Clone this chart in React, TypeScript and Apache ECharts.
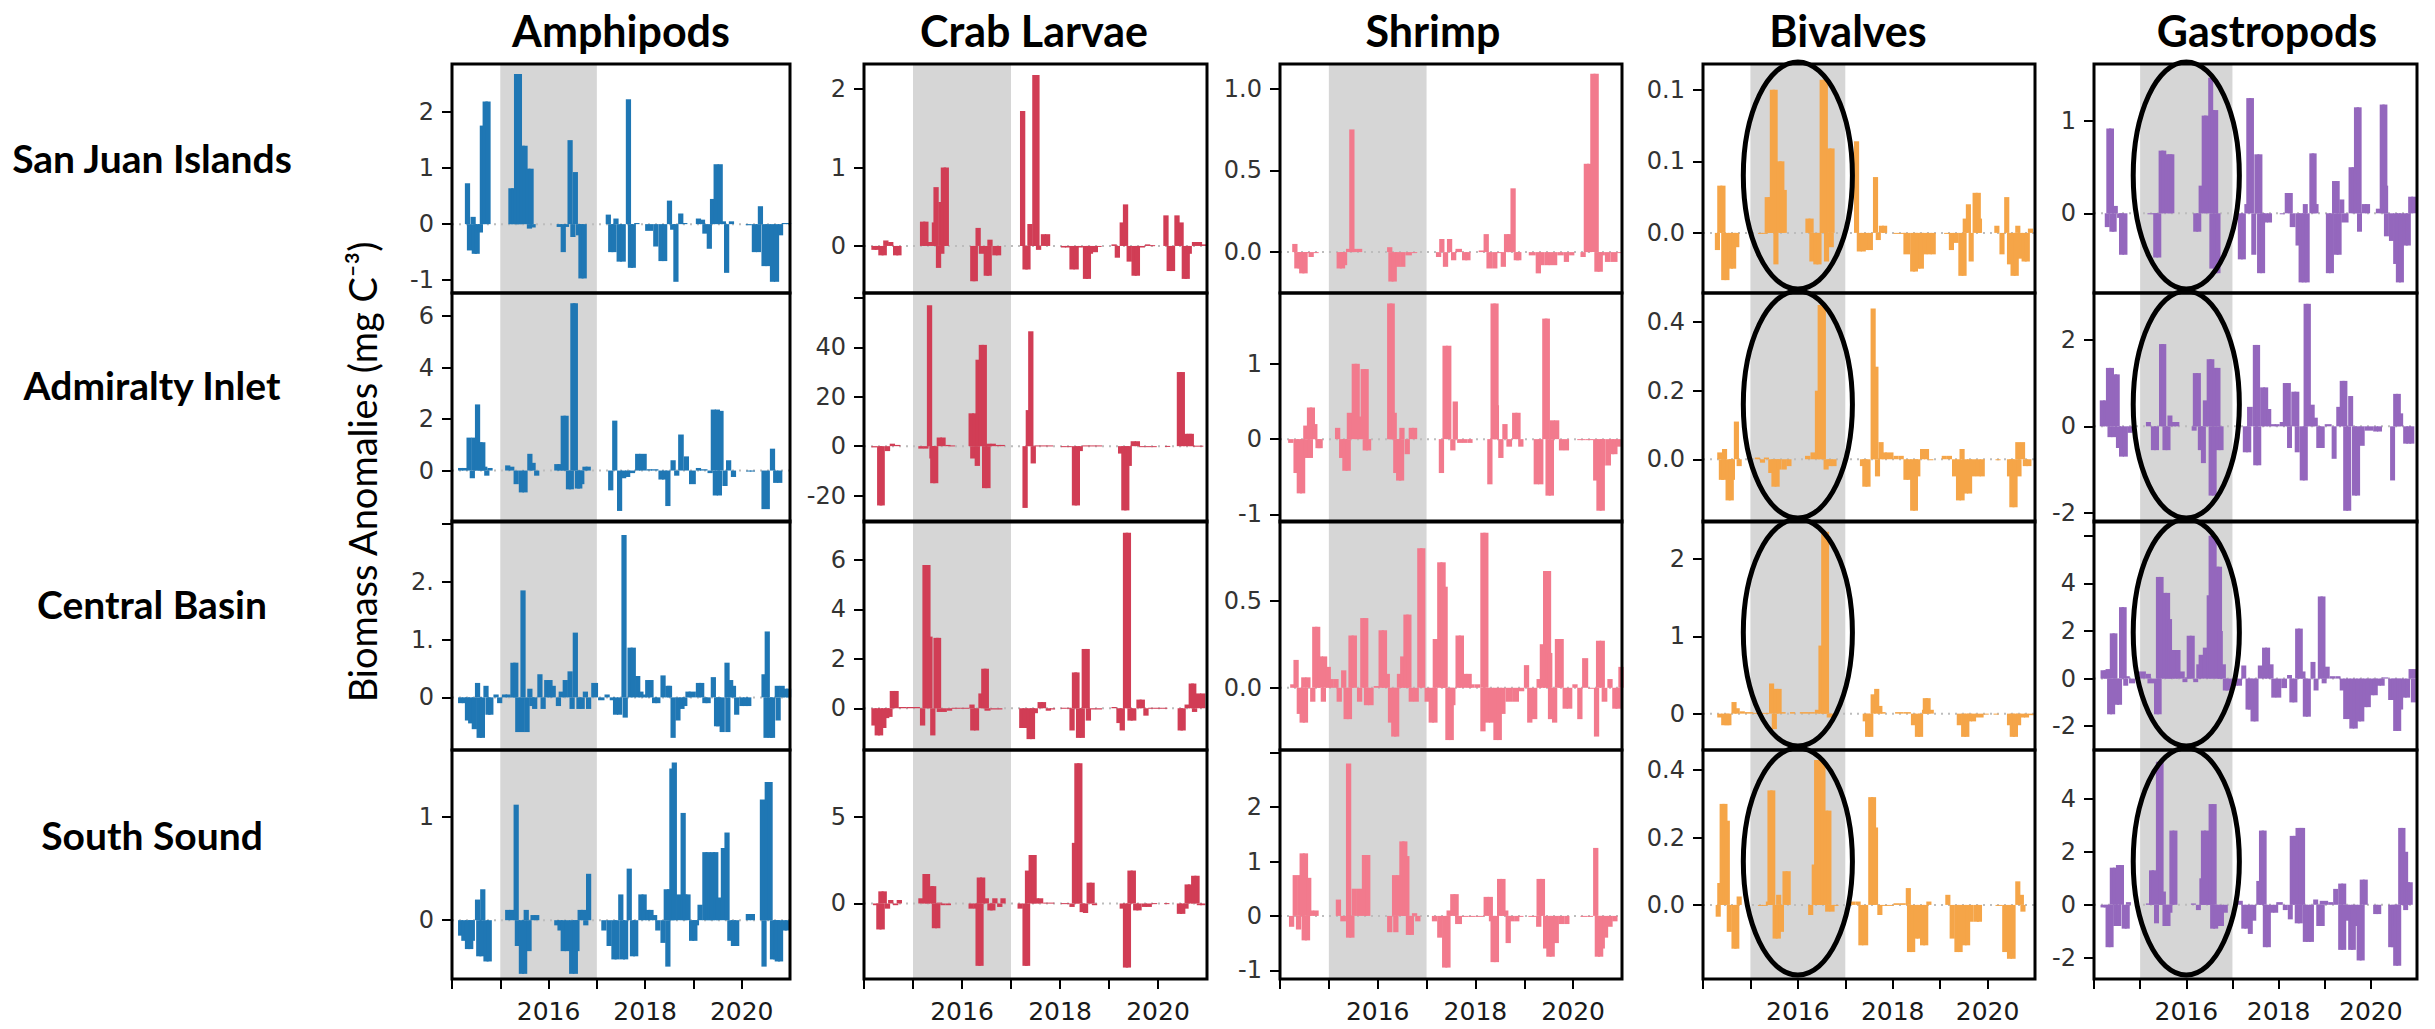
import { useEffect, useRef } from 'react';
import * as echarts from 'echarts';

// ---------- categories / labels ----------
const taxa = ['Amphipods', 'Crab Larvae', 'Shrimp', 'Bivalves', 'Gastropods'];
const regions = ['San Juan Islands', 'Admiralty Inlet', 'Central Basin', 'South Sound'];
const yAxisTitle = 'Biomass Anomalies (mg C\u207B\u00B3)';
const xTickYears = [2014, 2015, 2016, 2017, 2018, 2019, 2020];
const xLabelYears = [2016, 2018, 2020];
const xStartYear = 2014;
const xEndYear = 2021;
const warmPeriod = [2015, 2017];
const circledTaxa = ['Bivalves', 'Gastropods'];
const circleCenterYear = 2016;
const circleHalfWidthYears = 1.15;

// ---------- y axis limits, ticks and tick labels (per taxon, per region) ----------
const amphipodsYLimits = [[-1.23, 2.86], [-2.0, 6.9], [-0.91, 3.05], [-0.57, 1.65]];
const amphipodsYTicks = [[-1, 0, 1, 2], [0, 2, 4, 6], [0, 1, 2, 3], [0, 1]];
const amphipodsYTickLabels = [['-1', '0', '1', '2'], ['0', '2', '4', '6'], ['0', '1.', '2.', ''], ['0', '1']];

const crabYLimits = [[-0.6, 2.32], [-30.7, 62], [-1.69, 7.58], [-4.36, 8.86]];
const crabYTicks = [[0, 1, 2], [-20, 0, 20, 40, 60], [0, 2, 4, 6], [0, 5]];
const crabYTickLabels = [['0', '1', '2'], ['-20', '0', '20', '40', ''], ['0', '2', '4', '6'], ['0', '5']];

const shrimpYLimits = [[-0.25, 1.15], [-1.1, 1.94], [-0.357, 0.957], [-1.16, 3.05]];
const shrimpYTicks = [[0, 0.5, 1], [-1, 0, 1], [0, 0.5], [-1, 0, 1, 2, 3]];
const shrimpYTickLabels = [['0.0', '0.5', '1.0'], ['-1', '0', '1'], ['0.0', '0.5'], ['-1', '0', '1', '2', '']];

const bivalvesYLimits = [[-0.042, 0.118], [-0.183, 0.485], [-0.47, 2.49], [-0.22, 0.46]];
const bivalvesYTicks = [[0, 0.05, 0.1], [0, 0.2, 0.4], [0, 1, 2], [0, 0.2, 0.4]];
const bivalvesYTickLabels = [['0.0', '0.1', '0.1'], ['0.0', '0.2', '0.4'], ['0', '1', '2'], ['0.0', '0.2', '0.4']];

const gastropodsYLimits = [[-0.865, 1.62], [-2.21, 3.08], [-3.0, 6.62], [-2.8, 5.84]];
const gastropodsYTicks = [[0, 1], [-2, 0, 2], [-2, 0, 2, 4, 6], [-2, 0, 2, 4]];
const gastropodsYTickLabels = [['0', '1'], ['-2', '0', '2'], ['-2', '0', '2', '4', ''], ['-2', '0', '2', '4']];

// ---------- series values: [months since Jan 2014, anomaly] ----------
const amphipodsSanJuan = [
  [3.2, 0.73], [3.7, -0.47], [4.6, 0.13], [4.9, -0.53], [5.6, -0.53], [6.4, -0.15], [6.9, 1.76], [7.6, 2.19], [8.3, 2.19],
  [14.0, 0.64], [14.7, 0.64], [15.4, 2.68], [16.1, 2.68], [16.8, 1.4], [17.5, 1.4], [18.2, 0.99], [19.0, 0.99], [18.6, -0.08], [19.5, -0.06],
  [26.0, -0.05], [27.0, -0.5], [27.8, -0.05], [28.7, 1.5], [29.4, -0.23], [30.0, 0.93], [30.8, -0.2], [31.4, -0.97], [32.2, -0.97],
  [38.2, 0.17], [38.8, -0.5], [39.6, -0.5], [40.1, 0.1], [40.9, -0.67], [41.8, -0.67], [43.2, 2.23], [43.7, -0.78], [44.4, -0.78], [45.3, 0.02],
  [48.0, -0.12], [50.0, -0.4], [51.3, -0.66], [52.2, -0.66], [53.4, 0.42], [54.2, -0.1], [55.0, -1.03], [56.2, 0.19], [57.2, 0.02],
  [60.6, 0.1], [61.6, 0.08], [62.2, -0.17], [63.3, -0.44], [64.1, 0.45], [65.0, 1.07], [66.0, 1.07], [66.8, 0.05], [67.6, -0.87], [68.8, 0.05],
  [73.0, -0.02], [74.5, -0.5], [75.5, -0.5], [76.0, 0.32], [76.9, -0.75], [77.9, -0.75], [79.0, -1.03], [80.0, -1.03], [81.0, -0.2], [82.0, 0.02], [83.0, 0.02],
];
const amphipodsAdmiralty = [
  [1.5, 0.1], [2.5, 0.1], [3.6, 1.28], [4.4, -0.3], [4.8, 1.28], [5.7, 2.57], [6.3, 1.1], [7.0, 1.1], [7.5, 0.15], [8.0, -0.2], [8.8, 0.1],
  [13.2, 0.2], [14.2, 0.15], [15.3, -0.53], [16.6, -0.85], [17.5, -0.85], [18.7, 0.65], [19.5, 0.3], [20.4, -0.2],
  [25.4, 0.25], [26.2, 0.25], [27.0, 2.13], [27.7, 2.13], [28.3, -0.73], [29.0, -0.73], [29.4, 6.5], [30.0, 6.5], [30.5, -0.7], [31.1, -0.7], [31.6, -0.53], [32.4, 0.15], [33.2, 0.15],
  [38.8, -0.77], [39.8, 1.94], [41.0, -1.57], [42.0, -0.3], [43.0, -0.25], [44.0, -0.1], [45.5, 0.65], [46.5, 0.65],
  [48.4, 0.05], [49.5, 0.05], [51.3, -0.35], [52.2, -0.35], [53.0, -1.38], [54.3, 0.4], [55.2, -0.2], [56.2, 1.4], [57.6, 0.55], [58.9, -0.53],
  [60.6, 0.1], [61.6, 0.05], [63.5, -0.1], [64.3, 2.37], [65.3, 2.37], [66.2, 2.32], [64.8, -0.97], [65.8, -0.97], [67.2, -0.6], [68.1, 0.4], [69.3, -0.25],
  [73.1, -0.02], [74.0, -0.02], [76.9, -1.5], [79.0, 0.85], [79.8, -0.48], [80.8, -0.48],
];
const amphipodsCentral = [
  [1.5, -0.1], [2.4, -0.1], [3.2, -0.4], [4.0, -0.45], [4.9, -0.55], [5.7, 0.25], [6.1, -0.7], [6.9, -0.7], [7.8, 0.2], [8.3, -0.3], [9.0, -0.3],
  [10.3, 0.05], [11.2, -0.1], [12.4, 0.05], [13.3, 0.05],
  [14.5, 0.6], [15.2, 0.6], [15.7, -0.6], [17.0, 1.85], [16.8, -0.6], [18.0, -0.6], [18.7, 0.15], [19.2, -0.15], [19.9, -0.2], [21.2, 0.4], [22.0, -0.2],
  [22.9, 0.3], [23.7, 0.3], [24.5, 0.2], [25.8, -0.15], [26.5, 0.1], [27.5, 0.3], [28.7, 0.45], [29.2, -0.2], [30.0, 1.12], [30.9, -0.2], [31.7, -0.2], [32.5, 0.1], [33.3, -0.2], [34.6, 0.25],
  [36.3, -0.05], [37.9, 0.05], [39.2, -0.05], [40.0, -0.3], [41.0, -0.3], [42.1, 2.81], [42.4, -0.35], [43.6, 0.86], [44.4, 0.86], [45.5, 0.37], [46.3, 0.1], [47.2, 0.05],
  [48.0, 0.3], [48.8, 0.3], [49.7, -0.1], [50.5, -0.1], [51.8, 0.38], [53.0, 0.2], [53.4, 0.2], [54.3, -0.7], [55.5, -0.4], [56.5, -0.2], [57.2, -0.15], [58.0, 0.1], [58.8, 0.1],
  [60.6, 0.25], [61.4, 0.25], [62.2, -0.1], [63.0, -0.1], [64.3, 0.35], [65.1, -0.5], [65.6, -0.5], [66.5, -0.6], [67.7, 0.6], [67.9, -0.6], [68.6, 0.3], [69.3, 0.2], [70.1, -0.3], [71.4, -0.15], [72.3, -0.15], [73.1, -0.15],
  [76.9, 0.4], [77.7, 1.14], [77.4, -0.7], [78.4, -0.7], [79.0, -0.7], [80.2, 0.2], [80.4, -0.4], [81.4, 0.2], [82.3, 0.15], [83.0, 0.15],
];
const amphipodsSouth = [
  [1.5, -0.15], [2.3, -0.2], [3.2, -0.28], [4.0, -0.28], [4.4, -0.2], [5.7, 0.2], [6.0, -0.35], [6.8, -0.35], [7.0, 0.3], [7.8, -0.4], [8.6, -0.4],
  [13.2, 0.1], [14.2, 0.1], [15.3, 1.12], [15.6, -0.25], [16.6, -0.52], [17.4, -0.52], [17.8, 0.1], [18.5, -0.3], [19.5, 0.05], [20.4, 0.05],
  [25.4, -0.05], [26.2, -0.1], [27.0, -0.3], [28.0, -0.3], [29.1, -0.52], [30.0, -0.52], [30.4, -0.3], [31.2, 0.1], [32.0, 0.1], [33.3, 0.45], [32.6, -0.05],
  [37.1, -0.1], [38.4, -0.25], [39.6, -0.38], [40.4, -0.38], [41.3, 0.25], [41.7, -0.38], [42.5, -0.38], [43.4, 0.5], [44.2, -0.35], [45.0, -0.35], [46.3, 0.25], [47.1, 0.25],
  [48.0, 0.1], [48.8, 0.1], [49.7, 0.05], [50.5, -0.1], [51.8, -0.22], [52.6, 0.3], [53.0, -0.45], [53.4, 0.3], [54.0, 1.47], [54.6, 1.53], [55.7, 0.25], [56.8, 1.04], [57.2, 0.25], [58.0, 0.25], [58.9, -0.2], [59.7, -0.2], [60.1, -0.05],
  [61.0, 0.15], [62.2, 0.66], [63.0, 0.66], [63.5, 0.3], [64.1, 0.66], [64.9, 0.66], [65.6, 0.22], [66.8, 0.7], [67.7, 0.85], [68.4, -0.2], [69.3, -0.25], [70.1, -0.25],
  [73.0, 0.06], [74.0, 0.06],
  [76.5, 1.17], [76.9, -0.45], [77.7, 1.34], [78.4, 1.34], [79.0, -0.38], [79.8, -0.38], [80.2, -0.4], [81.0, -0.4], [81.9, -0.1], [82.7, -0.1],
];

const crabSanJuan = [
  [1.8, -0.05], [2.6, -0.05], [3.5, -0.12], [4.3, -0.12], [4.7, 0.07], [5.9, 0.05], [7.1, -0.12], [7.9, -0.12],
  [13.7, 0.31], [14.5, 0.31], [15.4, 0.05], [16.6, 0.3], [17.0, 0.75], [17.6, -0.28], [18.2, 0.56], [18.8, 1.0], [19.5, 1.0], [18.4, -0.1],
  [26.0, -0.45], [26.6, -0.45], [27.3, 0.23], [28.1, -0.1], [29.3, -0.38], [30.0, -0.38], [30.2, 0.08], [31.4, -0.12], [32.3, -0.12],
  [38.2, 1.72], [38.8, -0.3], [39.5, -0.3], [40.0, 0.28], [41.2, 2.18], [41.7, 2.18], [42.1, -0.05], [43.3, 0.15], [44.3, 0.15],
  [48.2, -0.02], [49.2, -0.02], [50.3, -0.3], [51.3, -0.3], [52.3, -0.02], [53.6, -0.42], [54.3, -0.42], [54.8, -0.1], [56.0, -0.08], [56.9, 0.0],
  [60.6, 0.02], [61.4, -0.15], [62.6, 0.3], [63.4, 0.53], [64.3, -0.2], [65.5, -0.38], [66.3, -0.38], [67.0, -0.02], [68.8, 0.02], [70.0, 0.01],
  [73.3, 0.39], [74.1, -0.32], [74.9, -0.32], [76.0, 0.39], [77.0, 0.3], [77.8, -0.42], [78.5, -0.42], [79.0, -0.1], [80.3, 0.05], [81.5, 0.05], [82.7, 0.02],
];
const crabAdmiralty = [
  [1.8, -0.5], [3.2, -24], [3.8, -24], [5.1, -2], [6.3, 1], [7.6, 0.5],
  [13.3, -1], [14.5, -1], [15.4, 57], [16.0, -5], [16.2, -15], [16.9, -15], [17.8, 3.5], [18.7, 3.5], [19.9, 0.5], [21.0, 0.3],
  [25.6, 13.3], [26.0, -5], [26.5, 13.3], [27.3, 35], [27.1, -8], [28.1, 41], [28.8, 41], [28.9, -17], [29.7, -17], [29.9, 1], [31.0, 1], [32.2, 0.5], [33.2, 0.5],
  [38.8, -25], [39.6, 14.6], [40.2, 46.5], [40.8, -7], [41.7, 0.3], [43.3, 0.3], [45.0, 0.3],
  [48.2, -0.2], [49.5, -0.2], [50.9, -24], [51.6, -24], [52.3, -2], [53.5, 0.3], [55.6, 0.3], [57.0, 0.3],
  [62.2, -3], [63.0, -26], [63.7, -26], [64.3, -8], [65.3, 2], [66.3, 2], [67.3, -0.3], [69.0, -0.3], [70.4, -0.3],
  [73.7, 0.1], [76.6, 30], [77.3, 30], [78.1, 5], [79.0, 5], [79.5, 5], [80.5, 0.2], [81.8, 0.2],
];
const crabCentral = [
  [1.8, -0.7], [2.6, -1.1], [3.4, -1.1], [4.2, -0.8], [4.9, -0.4], [5.7, -0.35], [6.3, 0.7], [7.2, 0.7], [8.4, 0.05], [10.4, 0.05], [12.0, 0.05],
  [13.7, -0.7], [14.3, 5.8], [15.0, 5.8], [15.5, 2.9], [16.2, -1.1], [17.0, 2.85], [17.6, 2.85], [17.8, -0.15], [19.0, -0.15], [20.3, -0.1], [21.5, 0.02], [23.6, 0.02],
  [25.8, 0.15], [26.0, -0.9], [26.9, -0.9], [28.0, 0.6], [28.7, 1.6], [29.3, 1.6], [29.5, -0.1], [31.0, -0.05], [32.6, -0.05],
  [38.0, -0.8], [38.8, -0.8], [39.8, -1.25], [40.6, -1.25], [41.3, -0.2], [42.5, 0.25], [43.3, 0.25], [44.5, -0.1], [45.5, -0.05],
  [48.2, 0.02], [49.5, 0.02], [50.3, -0.9], [50.9, 1.45], [51.5, 1.45], [51.9, -1.2], [52.8, -1.2], [53.3, 2.4], [54.0, 2.4], [54.3, -0.5], [55.6, -0.05], [57.0, -0.05],
  [60.6, 0.05], [61.8, -0.6], [62.6, -0.9], [63.4, 7.1], [64.1, 7.1], [64.5, -0.5], [65.3, -0.5], [66.7, 0.35], [67.5, 0.35], [68.4, -0.3], [69.6, 0.02], [71.0, 0.02], [73.0, 0.02],
  [76.8, -0.9], [77.5, -0.9], [78.5, 0.15], [79.5, 1.0], [80.1, 1.0], [80.3, -0.15], [81.3, 0.6], [82.3, 0.6],
];
const crabSouth = [
  [2.2, -0.1], [3.0, -1.5], [3.8, -1.5], [3.5, 0.7], [4.3, 0.7], [5.1, -0.3], [5.9, 0.2], [7.1, -0.1], [8.0, 0.2],
  [13.3, 0.3], [14.3, 1.7], [14.9, 1.7], [15.8, 1.0], [16.4, 1.0], [16.6, -1.43], [17.4, -1.43], [17.8, 0.05], [18.7, -0.1], [20.0, -0.1],
  [25.6, -0.3], [26.8, -0.3], [27.3, -3.6], [28.0, -3.6], [27.6, 1.5], [28.4, 1.5], [29.3, 0.3], [30.2, -0.4], [30.9, -0.4], [31.4, 0.3], [32.6, -0.2], [33.4, 0.3],
  [37.6, -0.3], [38.8, -3.6], [39.4, -3.6], [39.4, 1.9], [40.3, 2.8], [41.0, 2.8], [41.6, 0.3], [42.5, 0.3], [43.9, 0.05], [45.3, 0.05],
  [48.2, 0.02], [50.3, -0.2], [50.9, 3.5], [51.5, 8.1], [52.2, 8.1], [52.8, -0.5], [53.6, -0.55], [54.5, 1.2], [55.2, 1.2], [55.8, -0.1],
  [62.6, -0.3], [63.4, -3.7], [64.1, -3.7], [64.5, 1.9], [65.3, 1.9], [65.9, -0.4], [66.7, -0.4], [68.0, -0.2], [69.0, -0.2], [70.5, 0.02],
  [73.5, 0.02], [76.6, -0.6], [77.4, -0.6], [78.2, -0.3], [78.5, 1.1], [79.3, 1.1], [80.1, 1.6], [80.9, 1.6], [81.5, -0.1], [82.3, -0.1],
];

const shrimpSanJuan = [
  [3.0, 0.05], [3.5, -0.1], [4.3, -0.1], [4.7, -0.13], [5.5, -0.13], [5.9, 0.0], [7.0, -0.03], [8.2, 0.0],
  [13.9, -0.1], [14.7, -0.1], [15.2, -0.08], [16.2, 0.02], [17.0, 0.75], [17.6, 0.02], [18.9, 0.02],
  [26.3, 0.03], [26.6, -0.18], [27.4, -0.18], [28.3, -0.09], [29.5, -0.09], [30.8, -0.02], [32.4, 0.0],
  [38.3, -0.03], [39.1, 0.08], [40.0, -0.09], [41.0, 0.08], [42.0, -0.05], [43.1, 0.02], [44.7, -0.05], [45.5, -0.05],
  [48.8, 0.01], [50.0, 0.11], [50.7, -0.1], [52.1, -0.1], [53.3, 0.0], [54.2, -0.09], [55.0, 0.11], [55.8, 0.11], [56.6, 0.39], [57.4, -0.05], [58.0, -0.05],
  [61.1, -0.02], [62.8, -0.13], [63.6, -0.08], [64.9, -0.08], [66.0, -0.08], [68.1, -0.02], [69.7, -0.06], [71.0, -0.02],
  [73.8, -0.03], [74.6, 0.54], [75.4, 0.54], [76.2, 1.09], [77.0, 1.09], [77.2, -0.12], [78.0, -0.12], [78.5, -0.02], [79.8, -0.06], [81.2, -0.06], [82.9, 0.0],
];
const shrimpAdmiralty = [
  [2.0, -0.05], [3.3, -0.45], [4.1, -0.72], [4.9, -0.72], [5.7, -0.25], [5.7, 0.18], [6.6, 0.42], [7.3, 0.42], [6.8, -0.25], [7.9, 0.2], [8.7, -0.12], [9.2, -0.12],
  [13.5, 0.15], [14.5, -0.25], [15.3, -0.42], [16.1, -0.42], [16.4, 0.35], [17.6, 1.0], [18.3, 1.0], [18.9, 0.3], [19.8, 0.93], [20.5, 0.93], [20.3, -0.15], [21.1, -0.15],
  [26.3, 1.8], [26.9, 1.8], [27.4, 0.35], [27.8, -0.45], [28.5, -0.55], [29.2, -0.55], [29.3, 0.15], [30.6, -0.2], [31.6, 0.15], [32.4, 0.15],
  [39.0, -0.45], [39.9, 1.24], [40.8, 1.24], [41.8, -0.15], [42.4, 0.5], [43.5, -0.05], [44.7, -0.05], [46.0, -0.05],
  [50.9, -0.6], [51.7, 1.8], [52.4, 1.8], [52.5, 0.45], [53.6, -0.25], [54.6, 0.2], [55.6, -0.1], [57.0, 0.35], [57.8, 0.35], [58.5, -0.1],
  [62.3, -0.6], [63.4, -0.6], [64.4, 1.6], [65.0, 1.6], [65.2, -0.75], [66.0, -0.75], [66.2, 0.25], [67.3, 0.25], [68.5, -0.15], [69.7, -0.15],
  [73.0, 0.0], [75.0, 0.0], [76.9, -0.55], [77.7, -0.95], [78.5, -0.95], [78.7, -0.35], [80.0, -0.35], [80.8, -0.2], [81.6, -0.2], [82.4, -0.1],
];
const shrimpCentral = [
  [2.5, 0.02], [3.3, 0.16], [4.1, -0.15], [4.8, -0.2], [5.6, -0.2], [5.2, 0.06], [6.2, 0.06], [7.4, -0.08], [7.9, 0.35], [8.6, 0.35], [9.3, 0.18], [10.0, -0.08], [10.3, 0.18], [11.2, 0.12], [11.9, 0.05], [13.1, 0.05],
  [13.9, -0.08], [15.0, 0.1], [15.6, -0.18], [16.4, -0.18], [16.8, 0.3], [17.6, 0.3], [18.9, -0.08], [19.7, 0.4], [20.4, 0.4], [20.6, -0.1], [21.6, -0.1], [23.0, 0.01], [24.2, 0.33], [25.0, 0.33],
  [25.7, 0.08], [26.5, -0.2], [27.3, -0.28], [28.0, -0.28], [28.7, 0.08], [29.5, 0.18], [30.3, 0.42], [31.0, 0.42], [31.6, -0.08], [32.8, -0.08], [33.7, 0.8], [34.4, 0.8],
  [35.5, -0.08], [36.5, -0.2], [37.4, -0.2], [37.5, 0.28], [38.6, 0.72], [39.4, 0.72], [39.9, 0.58], [40.6, -0.3], [41.4, -0.3], [41.8, -0.1], [43.1, 0.3], [43.9, 0.3], [44.7, 0.08], [45.8, 0.08], [46.3, 0.02], [47.8, 0.02],
  [49.2, 0.89], [49.9, 0.89], [49.2, -0.25], [50.3, -0.2], [51.3, -0.2], [52.4, -0.3], [53.2, -0.3], [54.1, -0.15], [55.4, -0.08], [57.0, -0.08], [58.7, -0.02],
  [59.9, 0.13], [60.7, -0.2], [61.9, -0.18], [63.0, 0.05], [63.8, 0.25], [64.6, 0.67], [65.3, 0.67], [65.6, 0.2], [65.8, -0.18], [66.8, -0.2], [67.5, 0.28], [68.4, 0.28], [69.4, -0.12], [70.4, -0.12], [71.8, 0.02],
  [73.0, -0.18], [74.2, 0.17], [75.7, 0.0], [77.1, -0.28], [77.6, 0.27], [78.5, 0.27], [79.0, -0.08], [80.4, 0.05], [81.6, -0.12], [82.4, -0.12], [83.1, 0.12],
];
const shrimpSouth = [
  [2.2, -0.2], [3.1, 0.75], [3.9, -0.25], [4.3, 0.75], [4.8, 1.15], [5.6, 1.15], [5.3, -0.45], [6.1, -0.45], [6.4, 0.7], [7.1, 0.1], [8.2, 0.1],
  [13.7, 0.3], [14.8, -0.1], [16.2, 2.8], [16.2, -0.4], [17.0, -0.4], [17.6, 0.5], [18.9, 0.5], [20.1, 1.12], [20.9, 1.12],
  [26.3, -0.3], [27.5, 0.75], [27.8, -0.3], [28.5, 0.75], [29.3, 1.37], [30.0, 1.37], [30.5, 1.1], [30.9, -0.35], [31.6, -0.35], [32.4, 0.05], [33.2, -0.1],
  [37.3, -0.1], [38.6, -0.4], [39.8, -0.95], [40.6, -0.95], [40.9, 0.1], [41.8, 0.4], [42.6, 0.4], [43.0, -0.15], [44.7, 0.0], [46.3, 0.0], [48.0, 0.0],
  [50.0, 0.35], [51.0, 0.35], [51.3, -0.1], [51.7, -0.85], [52.5, -0.85], [53.3, 0.68], [54.1, 0.68], [54.8, 0.1], [55.4, -0.5], [56.2, -0.1], [57.5, -0.1],
  [58.5, 0.0], [61.0, 0.0], [62.9, -0.2], [63.0, 0.68], [63.8, 0.68], [64.6, -0.6], [65.4, -0.75], [66.2, -0.75], [67.2, -0.5], [68.4, -0.15], [69.8, -0.15],
  [73.8, 0.0], [75.5, 0.0], [76.9, 1.25], [77.3, -0.75], [78.1, -0.75], [78.5, -0.6], [79.3, -0.4], [80.4, -0.2], [81.6, -0.1],
];

const bivalvesSanJuan = [
  [3.0, -0.012], [3.6, 0.033], [4.4, 0.033], [4.6, -0.033], [5.4, -0.033], [6.3, -0.025], [7.1, -0.025], [7.9, -0.01],
  [13.9, 0.0], [15.0, 0.0], [15.6, 0.025], [16.4, 0.025], [16.9, 0.1], [17.6, 0.1], [17.8, -0.022], [18.6, 0.05], [19.3, 0.05], [19.9, 0.03],
  [25.9, 0.01], [26.7, 0.01], [26.9, -0.02], [27.9, -0.022], [28.7, -0.022], [29.5, 0.107], [30.3, 0.107], [31.2, 0.059], [32.0, 0.059], [30.6, -0.02], [31.8, -0.01],
  [38.2, 0.064], [38.9, -0.013], [39.9, -0.013], [40.7, -0.012], [41.7, -0.012], [43.0, 0.039], [43.7, -0.005], [44.5, 0.005], [45.3, 0.005],
  [48.2, 0.0], [50.0, 0.0], [50.7, -0.015], [52.4, -0.027], [53.1, -0.027], [53.7, -0.025], [54.6, -0.025], [55.5, -0.015], [56.6, -0.015], [57.6, -0.015],
  [61.0, 0.0], [62.2, -0.012], [63.4, -0.007], [64.6, -0.03], [65.4, -0.03], [65.7, 0.01], [66.5, 0.02], [67.2, -0.02], [68.2, 0.028], [69.0, 0.028], [69.3, 0.01],
  [73.7, 0.005], [75.0, -0.015], [76.2, 0.025], [76.9, -0.022], [77.8, -0.03], [78.6, -0.03], [79.0, 0.005], [79.6, -0.018], [80.6, -0.02], [81.4, -0.02], [82.2, 0.003],
];
const bivalvesAdmiralty = [
  [3.6, 0.02], [4.0, -0.06], [4.6, -0.06], [4.8, 0.03], [5.7, -0.12], [6.5, -0.12], [6.8, -0.06], [7.8, 0.11], [8.5, -0.02],
  [13.1, 0.005], [14.4, -0.01], [15.4, 0.005], [16.5, -0.04], [17.3, -0.08], [18.1, -0.08], [18.6, -0.03], [19.9, -0.03], [21.1, -0.02],
  [25.8, 0.01], [27.2, 0.02], [28.3, 0.2], [29.0, 0.45], [29.8, 0.45], [30.5, -0.03], [31.5, -0.02], [32.5, -0.02],
  [39.7, -0.02], [40.3, -0.08], [41.1, -0.08], [42.4, 0.44], [43.1, 0.27], [43.5, -0.05], [44.4, 0.05], [45.2, 0.02], [46.1, 0.02],
  [48.2, 0.01], [49.5, 0.01], [50.7, -0.06], [51.5, -0.06], [52.4, -0.15], [53.1, -0.15], [53.7, -0.05], [54.9, 0.03], [55.9, 0.03], [57.0, 0.0],
  [60.4, 0.01], [61.7, 0.01], [63.0, -0.05], [64.0, -0.12], [64.9, 0.03], [64.9, -0.12], [65.8, -0.1], [66.8, -0.1], [67.8, -0.05], [69.0, -0.05], [70.0, -0.05],
  [74.0, 0.0], [76.9, -0.05], [77.5, -0.14], [78.3, -0.14], [79.0, 0.05], [79.3, -0.05], [80.2, 0.05], [80.9, -0.02], [81.8, -0.02],
];
const bivalvesCentral = [
  [3.6, -0.05], [4.6, -0.15], [5.4, -0.15], [5.9, -0.15], [7.2, 0.15], [8.0, 0.07], [9.3, 0.03], [10.6, 0.02],
  [12.7, 0.01], [14.8, 0.01], [16.7, 0.39], [17.4, -0.2], [17.8, 0.32], [18.6, 0.32], [19.6, 0.02], [22.0, 0.02], [24.5, 0.02], [26.6, 0.02],
  [28.3, 0.05], [29.2, 0.88], [29.9, 2.35], [30.6, 2.35], [31.3, -0.05], [32.3, -0.05],
  [40.4, -0.1], [41.0, -0.3], [41.8, -0.3], [42.4, 0.25], [43.3, 0.32], [44.1, 0.1], [44.9, 0.02],
  [48.6, 0.02], [50.7, 0.02], [52.6, -0.15], [53.6, -0.3], [54.4, -0.3], [55.4, 0.05], [55.6, 0.2], [56.3, 0.2], [57.1, 0.05],
  [64.2, -0.15], [65.3, -0.3], [66.1, -0.3], [66.8, -0.1], [67.8, -0.1], [68.9, -0.05], [71.0, 0.0], [73.5, 0.0],
  [76.9, -0.15], [77.6, -0.3], [78.4, -0.3], [79.2, -0.15], [80.2, -0.05], [81.2, -0.05], [82.4, -0.02],
];
const bivalvesSouth = [
  [3.2, -0.035], [3.6, 0.065], [4.2, 0.3], [4.9, 0.3], [5.5, 0.25], [6.0, -0.08], [7.2, -0.13], [7.9, -0.13], [8.5, 0.025],
  [13.9, 0.0], [15.0, 0.0], [15.9, 0.01], [16.3, 0.34], [17.0, 0.34], [17.6, -0.1], [18.4, -0.1], [18.5, 0.03], [19.2, -0.08], [20.1, 0.1], [20.9, 0.1],
  [26.6, -0.03], [27.5, 0.12], [28.1, 0.43], [28.9, 0.43], [29.7, 0.43], [30.4, 0.28], [31.2, 0.28], [30.9, -0.02], [32.0, -0.02], [33.0, 0.0],
  [37.2, 0.01], [38.6, 0.01], [39.3, -0.12], [40.2, -0.12], [41.8, 0.32], [42.5, 0.32], [43.0, 0.23], [44.1, -0.03], [45.2, 0.0], [46.2, 0.0],
  [48.2, 0.005], [49.8, 0.005], [51.3, 0.05], [51.6, -0.14], [52.4, -0.14], [53.2, -0.1], [54.0, -0.1], [54.9, -0.12], [55.7, -0.12], [56.5, 0.01],
  [61.3, 0.03], [62.4, -0.1], [63.6, -0.14], [64.4, -0.14], [65.4, -0.12], [66.3, -0.12], [67.2, -0.05], [68.5, -0.05], [69.3, -0.05],
  [74.0, 0.0], [75.7, -0.14], [76.9, -0.16], [77.8, -0.16], [79.0, 0.07], [79.9, 0.03], [80.3, -0.02],
];

const gastropodsSanJuan = [
  [2.8, -0.15], [3.2, 0.92], [3.9, 0.92], [4.0, -0.2], [4.6, -0.2], [4.9, 0.08], [6.0, -0.05], [6.5, -0.45], [7.4, -0.45],
  [13.9, 0.0], [15.1, 0.0], [15.4, -0.48], [16.2, -0.48], [16.8, 0.68], [17.5, 0.68], [18.3, 0.64], [19.1, 0.64], [19.6, 0.64],
  [25.8, -0.2], [26.6, -0.2], [27.2, 0.3], [28.0, 1.06], [28.6, 1.06], [29.7, 1.47], [30.2, 1.12], [31.0, 1.12], [30.0, -0.6], [31.0, -0.65], [31.6, -0.65],
  [37.4, -0.5], [38.2, -0.5], [39.1, 0.1], [39.6, 1.25], [40.3, 1.25], [40.9, -0.45], [41.7, 0.64], [42.5, 0.64], [42.4, -0.65], [43.2, -0.65], [43.9, -0.1], [45.0, -0.1],
  [48.3, 0.0], [49.6, 0.22], [50.4, 0.22], [50.9, -0.15], [52.4, -0.35], [53.2, -0.75], [54.0, -0.75], [54.8, -0.75], [54.3, 0.1], [56.0, 0.65], [56.6, 0.65], [57.1, 0.1],
  [60.3, -0.65], [61.1, -0.65], [61.9, 0.35], [62.6, 0.35], [62.3, -0.45], [63.1, -0.45], [63.8, 0.15], [64.3, -0.1], [66.2, 0.5], [67.0, 0.5], [67.6, 1.15], [68.3, 1.15], [68.4, -0.2], [69.6, 0.1], [70.5, 0.1],
  [73.3, 0.05], [74.3, 1.18], [75.0, 1.18], [75.2, 0.3], [75.4, -0.25], [76.7, -0.3], [77.8, -0.55], [78.5, -0.75], [79.3, -0.75], [80.3, -0.35], [81.1, -0.35], [81.7, 0.18], [82.5, 0.18],
];
const gastropodsAdmiralty = [
  [1.5, 0.6], [2.4, 0.6], [3.1, 1.35], [3.9, 1.35], [4.7, 1.2], [5.4, 1.2], [3.5, -0.25], [4.5, -0.25], [5.7, -0.5], [6.5, -0.7], [7.5, -0.7], [8.7, -0.15],
  [13.5, 0.1], [14.8, -0.55], [15.6, -0.55], [16.9, 1.9], [17.5, 1.9], [17.8, -0.55], [18.6, -0.55], [19.1, 0.25], [20.0, 0.1], [20.9, 0.1],
  [25.4, -0.1], [25.7, 1.23], [26.5, 1.23], [27.0, -0.55], [27.8, -0.85], [28.3, 0.6], [29.3, 1.55], [30.0, 1.55], [29.8, -1.6], [30.6, -1.6], [30.9, 1.35], [31.6, 1.35], [31.6, -0.55], [32.4, -0.55],
  [38.7, -0.6], [39.6, -0.6], [39.8, 0.45], [41.3, 1.88], [41.9, 1.88], [41.4, -0.9], [42.2, -0.9], [43.2, 0.9], [44.0, 0.9], [44.8, 0.4], [46.0, 0.05], [47.0, 0.05],
  [48.3, 0.1], [49.1, 1.0], [49.9, 1.0], [50.2, -0.5], [51.3, 0.8], [52.1, 0.8], [52.2, -0.6], [53.5, -1.25], [54.3, -1.25], [54.5, 2.83], [55.1, 2.83], [56.1, 0.5], [56.9, 0.2], [57.8, -0.5], [58.5, -0.5],
  [60.0, 0.05], [61.8, -0.75], [63.0, 0.45], [63.9, 1.05], [64.6, 1.05], [64.8, -1.95], [65.6, -1.95], [66.1, 0.7], [67.1, -1.6], [67.9, -1.6], [69.1, -0.45], [70.4, -0.1],
  [72.6, -0.12], [73.6, -0.12], [77.0, -1.25], [77.8, 0.75], [78.5, 0.75], [79.1, 0.3], [80.4, -0.4], [81.2, -0.4], [82.0, -0.4],
];
const gastropodsCentral = [
  [1.7, 0.35], [2.5, 0.35], [3.0, 0.4], [3.4, -1.5], [4.2, -1.5], [4.1, 1.9], [4.8, 1.9], [5.2, -1.1], [6.0, -1.1], [6.5, 3.0], [7.2, 3.0], [7.6, -0.3], [8.0, 0.1], [9.1, -0.2],
  [10.7, 0.3], [12.2, 0.3], [13.5, 0.2], [13.9, -0.2], [15.6, -1.5], [16.3, -1.5], [16.1, 4.27], [16.8, 4.27], [17.7, 3.6], [18.5, 3.6], [19.0, 2.5], [19.7, 1.2], [20.5, 1.2], [21.2, 1.2], [22.3, 0.3],
  [23.0, -0.15], [23.6, 0.05], [24.1, 1.8], [24.9, 1.8], [25.8, -0.15], [26.6, 0.6], [27.2, 1.0], [28.3, 1.3], [29.3, 3.5], [29.8, 6.0], [30.6, 6.0], [31.3, 4.7], [32.0, 4.7], [32.2, 2.0], [33.0, 0.6], [33.5, -0.5], [34.2, -0.5],
  [36.1, -0.3], [37.2, -0.3], [38.3, 0.55], [39.4, -1.3], [40.0, -1.3], [40.7, -1.8], [41.5, -1.8], [42.6, 0.55], [43.7, 1.3], [44.5, 1.3], [45.4, 0.6], [46.1, -0.8], [47.2, -0.8], [48.7, -0.4], [50.2, 0.15],
  [50.8, -1.0], [51.6, -1.0], [52.3, 2.1], [53.0, 2.1], [53.7, 0.3], [54.3, -1.6], [55.1, -1.6], [56.3, 0.7], [57.1, -0.5], [58.2, 3.45], [58.9, 3.45], [59.6, 0.5], [59.2, -0.2],
  [61.3, 0.1], [62.8, 0.1], [63.9, -0.5], [64.8, -1.7], [65.6, -1.7], [66.4, -2.1], [67.3, -2.1], [68.1, -1.8], [69.0, -1.8], [69.8, -1.2], [70.7, -1.2], [71.6, -0.7], [72.5, -0.7], [73.3, -0.3], [74.3, -0.3], [74.8, 0.05],
  [76.5, -0.9], [77.3, -0.9], [77.8, -2.2], [78.6, -2.2], [79.1, -1.3], [80.0, -0.8], [80.9, -0.8], [81.8, 0.4], [82.4, -1.0], [82.8, 0.4],
];
const gastropodsSouth = [
  [1.7, -0.1], [2.5, -0.1], [3.0, -1.6], [3.8, -1.6], [4.1, 1.4], [4.9, 1.4], [5.0, -0.8], [5.8, -0.8], [5.7, 1.5], [6.5, 1.5], [7.2, -0.9], [8.0, -0.9], [8.3, 0.1],
  [13.5, 0.05], [14.3, 1.3], [15.0, 1.3], [15.6, -0.7], [16.1, 5.4], [16.8, 5.4], [17.4, 0.5], [17.8, -0.8], [18.6, -0.8], [19.6, 2.8], [20.4, 2.8], [19.1, -0.3],
  [25.2, 0.05], [26.5, -0.2], [27.4, 1.0], [27.8, 2.8], [28.6, 2.8], [29.3, 0.2], [29.8, 3.8], [30.6, 3.8], [30.2, -0.9], [31.0, -0.9], [31.7, -0.8], [32.5, -0.8], [33.5, -0.3],
  [37.4, 0.15], [38.3, -0.9], [39.1, -0.9], [40.0, -1.1], [40.7, -0.6], [42.2, 0.9], [42.9, 2.8], [43.6, 2.8], [43.9, -1.6], [44.7, -1.6], [45.6, -0.3], [46.6, -0.3], [47.4, 0.1],
  [49.1, -0.2], [50.4, -0.55], [50.9, 2.6], [51.7, 2.6], [52.4, 2.9], [53.2, 2.9], [53.6, 2.9], [52.2, -0.7], [53.0, -0.7], [54.3, -1.4], [55.1, -1.4], [55.9, -1.4], [57.0, 0.2], [57.8, -0.8], [58.7, -0.8], [58.7, 0.15],
  [60.9, 0.1], [62.2, 0.6], [63.5, 0.8], [64.3, 0.8], [63.5, -1.7], [64.3, -1.7], [65.2, -0.6], [66.1, -1.7], [66.8, -1.7], [67.4, -0.8], [68.3, -2.1], [69.1, -2.1], [69.1, 0.95], [69.9, 0.95],
  [72.6, -0.35], [73.4, -0.35], [76.5, -1.6], [77.3, -1.6], [77.8, -2.3], [78.6, -2.3], [78.0, -0.8], [79.1, 2.9], [79.7, 2.9], [79.6, 2.0], [80.4, 2.0], [80.9, 0.85], [81.6, 0.85], [80.4, -0.2],
];

// ---------- assembled tables ----------
const panelValues = [
  [amphipodsSanJuan, amphipodsAdmiralty, amphipodsCentral, amphipodsSouth],
  [crabSanJuan, crabAdmiralty, crabCentral, crabSouth],
  [shrimpSanJuan, shrimpAdmiralty, shrimpCentral, shrimpSouth],
  [bivalvesSanJuan, bivalvesAdmiralty, bivalvesCentral, bivalvesSouth],
  [gastropodsSanJuan, gastropodsAdmiralty, gastropodsCentral, gastropodsSouth],
];
const yLimits = [amphipodsYLimits, crabYLimits, shrimpYLimits, bivalvesYLimits, gastropodsYLimits];
const yTicks = [amphipodsYTicks, crabYTicks, shrimpYTicks, bivalvesYTicks, gastropodsYTicks];
const yTickLabels = [amphipodsYTickLabels, crabYTickLabels, shrimpYTickLabels, bivalvesYTickLabels, gastropodsYTickLabels];

// ---------- layout & style ----------
const taxonColors = ['#1f77b4', '#d13d55', '#f27a8d', '#f5a548', '#9467bd'];
const colLeft = [452, 864, 1280, 1703, 2094];
const colRight = [790, 1207, 1622, 2035, 2417];
const rowTop = [64, 293, 521, 750];
const rowHeight = 229;
const titleX = [621, 1034, 1433, 1848, 2267];
const titleY = 30;
const rowLabelX = 152;
const rowLabelY = [158, 385, 604, 835];
const BAR_MONTHS = 1.3;

function toBars(points) {
  const s = [...points].sort((a, b) => a[0] - b[0]);
  return s.map((p, k) => {
    let w = BAR_MONTHS;
    const next = s[k + 1];
    if (next) {
      const gap = next[0] - p[0];
      if (gap > w && gap < 2.2) w = gap;
    }
    return [xStartYear + p[0] / 12, p[1], xStartYear + (p[0] + w) / 12];
  });
}

function buildOption() {
  const grid = [];
  const xAxis = [];
  const yAxis = [];
  const series = [];
  taxa.forEach((t, c) => {
    regions.forEach((r, k) => {
      const i = c * 4 + k;
      const bottom = k === regions.length - 1;
      const [lo, hi] = yLimits[c][k];
      const ticks = yTicks[c][k];
      const labels = yTickLabels[c][k];
      grid.push({
        left: colLeft[c], top: rowTop[k], width: colRight[c] - colLeft[c], height: rowHeight,
        show: true, borderColor: '#000', borderWidth: 3, backgroundColor: 'transparent', z: 10,
      });
      xAxis.push({
        type: 'value', gridIndex: i, min: xStartYear, max: xEndYear, position: 'bottom',
        axisLine: { show: false, onZero: false }, splitLine: { show: false },
        axisTick: { show: bottom, customValues: xTickYears, length: 10, lineStyle: { color: '#000', width: 2 } },
        axisLabel: {
          show: bottom, customValues: xLabelYears, formatter: (v) => String(Math.round(v)),
          margin: 20, fontSize: 25, fontFamily: 'DejaVu Sans', color: '#1a1a1a',
        },
      });
      yAxis.push({
        type: 'value', gridIndex: i, min: lo, max: hi, position: 'left',
        axisLine: { show: false, onZero: false }, splitLine: { show: false },
        axisTick: { show: true, customValues: ticks, length: 10, lineStyle: { color: '#000', width: 2 } },
        axisLabel: {
          customValues: ticks,
          formatter: (v) => {
            const j = ticks.findIndex((tv) => Math.abs(tv - v) < 1e-9);
            return j >= 0 ? labels[j] : '';
          },
          margin: 18, fontSize: 24, fontFamily: 'DejaVu Sans', color: '#333',
        },
      });
      series.push({
        type: 'line', xAxisIndex: i, yAxisIndex: i, silent: true, symbol: 'none', z: 1,
        data: [[xStartYear, 0], [xEndYear, 0]],
        lineStyle: { color: '#bdbdbd', width: 2, type: [2, 5] },
        markArea: {
          silent: true, itemStyle: { color: '#d6d6d6' },
          data: [[{ xAxis: warmPeriod[0] }, { xAxis: warmPeriod[1] }]],
        },
      });
      const color = taxonColors[c];
      series.push({
        type: 'custom', xAxisIndex: i, yAxisIndex: i, silent: true, z: 2,
        data: toBars(panelValues[c][k]),
        encode: { x: [0, 2], y: 1 },
        renderItem: (params, api) => {
          const x0 = api.value(0);
          const v = api.value(1);
          const x1 = api.value(2);
          const p0 = api.coord([x0, 0]);
          const p1 = api.coord([x1, v]);
          return {
            type: 'rect',
            shape: { x: p0[0], y: Math.min(p0[1], p1[1]), width: p1[0] - p0[0], height: Math.max(Math.abs(p1[1] - p0[1]), 1) },
            style: { fill: color },
          };
        },
      });
    });
  });
  return { animation: false, backgroundColor: '#ffffff', grid, xAxis, yAxis, series };
}

function textEl(text, x, y, size, weight, rotation) {
  return {
    type: 'text', x, y, rotation: rotation || 0, z: 50, silent: true,
    style: {
      text, fill: '#000', fontSize: size, fontWeight: weight, fontFamily: 'Lato, "Open Sans", sans-serif',
      align: 'center', verticalAlign: 'middle', textAlign: 'center', textVerticalAlign: 'middle',
    },
  };
}

function buildGraphics(chart) {
  const g = [];
  taxa.forEach((t, c) => g.push(textEl(t, titleX[c], titleY, 43, 'bold')));
  regions.forEach((r, k) => g.push(textEl(r, rowLabelX, rowLabelY[k], 39, 'bold')));
  g.push(textEl(yAxisTitle, 362, 472, 38, 'normal', Math.PI / 2));
  taxa.forEach((t, c) => {
    if (!circledTaxa.includes(t)) return;
    regions.forEach((r, k) => {
      const i = c * 4 + k;
      const [lo, hi] = yLimits[c][k];
      const pc = chart.convertToPixel({ gridIndex: i }, [circleCenterYear, (lo + hi) / 2]);
      const pr = chart.convertToPixel({ gridIndex: i }, [circleCenterYear + circleHalfWidthYears, hi]);
      const pb = chart.convertToPixel({ gridIndex: i }, [circleCenterYear, lo]);
      g.push({
        type: 'ellipse', z: 100, silent: true,
        shape: { cx: pc[0], cy: pc[1] - 3, rx: pr[0] - pc[0], ry: (pb[1] - pr[1]) / 2 - 1 },
        style: { fill: 'none', stroke: '#000', lineWidth: 5 },
      });
    });
  });
  return g;
}

export default function App() {
  const ref = useRef(null);
  useEffect(() => {
    const chart = echarts.init(ref.current, null, { renderer: 'svg' });
    chart.setOption(buildOption());
    chart.setOption({ graphic: buildGraphics(chart) });
    return () => chart.dispose();
  }, []);
  return (
    <div
      ref={ref}
      style={{ position: 'fixed', left: 0, top: 0, width: '2435px', height: '1029px', background: '#fff' }}
    />
  );
}
